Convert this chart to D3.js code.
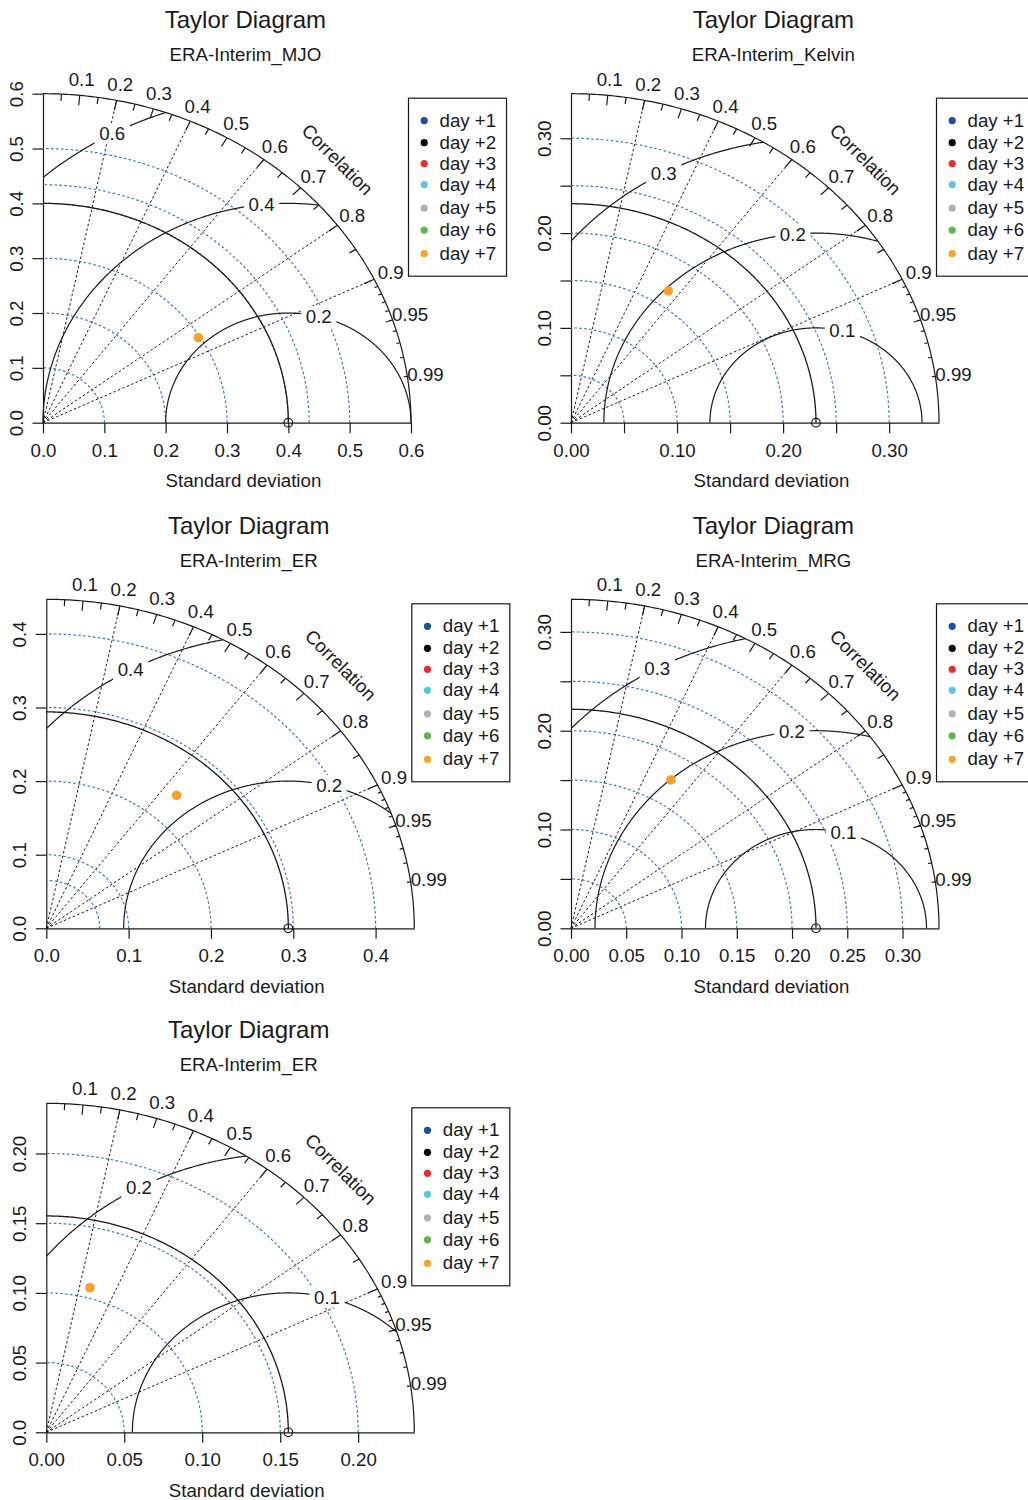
<!DOCTYPE html>
<html><head><meta charset="utf-8">
<script src="https://cdn.jsdelivr.net/npm/d3@7"></script>
<style>
body{margin:0;background:#fff}
text{font-family:"Liberation Sans",Arial,Helvetica,sans-serif;fill:#1a1a1a}
</style>
</head><body>
<svg id="c" width="1028" height="1500"></svg>
<script>
// ---------------- data ----------------
const panelTitles = ["ERA-Interim_MJO", "ERA-Interim_Kelvin", "ERA-Interim_ER", "ERA-Interim_MRG", "ERA-Interim_ER"];
const refSD  = [0.400, 0.231, 0.294, 0.2217, 0.1552];
const maxSD  = [0.600, 0.347, 0.447, 0.333, 0.236];
const rmsLevels = [[0.2, 0.4, 0.6], [0.1, 0.2, 0.3], [0.2, 0.4], [0.1, 0.2, 0.3], [0.1, 0.2]];
const sdArcs = [
  [0.1, 0.2, 0.3, 0.4, 0.434, 0.5],
  [0.05, 0.10, 0.15, 0.20, 0.25, 0.30],
  [0.065, 0.1, 0.2, 0.3, 0.4],
  [0.05, 0.10, 0.15, 0.20, 0.25, 0.30],
  [0.05, 0.10, 0.15, 0.20]
];
const axisTicks = [
  [0, 0.1, 0.2, 0.3, 0.4, 0.5, 0.6],
  [0, 0.05, 0.10, 0.15, 0.20, 0.25, 0.30],
  [0, 0.1, 0.2, 0.3, 0.4],
  [0, 0.05, 0.10, 0.15, 0.20, 0.25, 0.30],
  [0, 0.05, 0.10, 0.15, 0.20]
];
const xTickLabels = [
  ["0.0", "0.1", "0.2", "0.3", "0.4", "0.5", "0.6"],
  ["0.00", "", "0.10", "", "0.20", "", "0.30"],
  ["0.0", "0.1", "0.2", "0.3", "0.4"],
  ["0.00", "0.05", "0.10", "0.15", "0.20", "0.25", "0.30"],
  ["0.00", "0.05", "0.10", "0.15", "0.20"]
];
const yTickLabels = [
  ["0.0", "0.1", "0.2", "0.3", "0.4", "0.5", "0.6"],
  ["0.00", "", "0.10", "", "0.20", "", "0.30"],
  ["0.0", "0.1", "0.2", "0.3", "0.4"],
  ["0.00", "", "0.10", "", "0.20", "", "0.30"],
  ["0.0", "0.05", "0.10", "0.15", "0.20"]
];
const corrLines  = [0.2, 0.4, 0.6, 0.8, 0.9];
const corrLabels = [0.1, 0.2, 0.3, 0.4, 0.5, 0.6, 0.7, 0.8, 0.9, 0.95, 0.99];
const seriesNames  = ["day +1", "day +2", "day +3", "day +4", "day +5", "day +6", "day +7"];
const seriesColors = ["#1d4fa0", "#000000", "#ec2a2c", "#5ac8db", "#b3b3b3", "#5cb946", "#f7a12a"];
// plotted model points (only day +7 is visible): standard deviation and correlation
const day7SD   = [0.297, 0.1665, 0.2403, 0.1753, 0.1074];
const day7Corr = [0.853, 0.551, 0.659, 0.516, 0.261];

// ---------------- layout ----------------
const origins = [[43, 422.7], [571, 422.7], [46.3, 928.3], [571, 928.3], [46.3, 1432.3]];
const RX = 368, RY = 329;
const FS = 18.7, TFS = 24;
const INK = "#1a1a1a", BLUE = "#2f73cc";
const legendRowY = [22.5, 44.5, 65.5, 86.5, 110, 132, 155.5];

const svg = d3.select("#c");

panelTitles.forEach((title, p) => {
  const [ox, oy] = origins[p];
  const m = maxSD[p];
  const x = d3.scaleLinear().domain([0, m]).range([ox, ox + RX]);
  const y = d3.scaleLinear().domain([0, m]).range([oy, oy - RY]);
  const line = d3.line().x(d => x(d[0])).y(d => y(d[1]));
  const g = svg.append("g");
  const quarter = (r) => d3.range(0, 201).map(i => {
    const t = (Math.PI / 2) * i / 200;
    return [r * Math.cos(t), r * Math.sin(t)];
  });
  const cxT = ox + 1.1 * RX / 2;

  // titles
  g.append("text").attr("x", cxT).attr("y", oy - 394.4).attr("text-anchor", "middle")
    .attr("font-size", TFS).text("Taylor Diagram");
  g.append("text").attr("x", cxT).attr("y", oy - 361.7).attr("text-anchor", "middle")
    .attr("font-size", FS).text(title);
  g.append("text").attr("x", cxT - 2).attr("y", oy + 64.5).attr("text-anchor", "middle")
    .attr("font-size", FS).text("Standard deviation");

  // correlation dotted rays
  corrLines.forEach(c => {
    g.append("path").attr("d", line([[0, 0], [m * c, m * Math.sqrt(1 - c * c)]]))
      .attr("fill", "none").attr("stroke", INK).attr("stroke-width", 1)
      .attr("stroke-dasharray", "2.5,2.3");
  });

  // axes
  const xa = g.append("g").attr("transform", `translate(0,${oy})`)
    .call(d3.axisBottom(x).tickValues(axisTicks[p]).tickSize(10.5).tickSizeOuter(0)
      .tickFormat((d, i) => xTickLabels[p][i]));
  const ya = g.append("g").attr("transform", `translate(${ox},0)`)
    .call(d3.axisLeft(y).tickValues(axisTicks[p]).tickSize(10.5).tickSizeOuter(0)
      .tickFormat((d, i) => yTickLabels[p][i]));
  [xa, ya].forEach(a => {
    a.selectAll("path,line").attr("stroke", INK).attr("stroke-width", 1.2);
    a.selectAll("text").attr("font-size", FS).attr("fill", INK)
      .style("font-family", '"Liberation Sans",Arial,Helvetica,sans-serif');
  });
  xa.selectAll("text").attr("y", 34).attr("dy", null);
  ya.selectAll("text").attr("x", null).attr("dy", null).attr("text-anchor", "middle")
    .attr("transform", "translate(-20,0) rotate(-90)");

  // standard deviation grid arcs (blue dotted)
  sdArcs[p].forEach(s => {
    g.append("path").attr("d", line(quarter(s))).attr("fill", "none")
      .attr("stroke", BLUE).attr("stroke-width", 1.15).attr("stroke-dasharray", "2.6,2.3");
  });

  // centred RMS difference arcs with boxed labels
  const nG = rmsLevels[p].length;
  rmsLevels[p].forEach((gm, i) => {
    const pts = d3.range(0, Math.PI + 1e-9, 0.003)
      .map(t => [refSD[p] + gm * Math.cos(t), gm * Math.sin(t)])
      .filter(d => d[0] >= 0 && Math.hypot(d[0], d[1]) <= m * 1.0005);
    g.append("path").attr("d", line(pts)).attr("fill", "none")
      .attr("stroke", INK).attr("stroke-width", 1.2);
    const idx = nG > 1 ? Math.floor(45 + i * 25 / (nG - 1)) : 45;
    const t = (idx - 1) * 0.03;
    const lx = refSD[p] + gm * Math.cos(t), ly = gm * Math.sin(t);
    if (lx > 0) {
      const lbl = String(gm);
      const tw = lbl.length * 0.45 * FS;
      g.append("rect").attr("x", x(lx) - tw / 2 - 5).attr("y", y(ly) - 10.5)
        .attr("width", tw + 10).attr("height", 21).attr("fill", "#fff");
      g.append("text").attr("x", x(lx)).attr("y", y(ly)).attr("dy", "0.35em")
        .attr("text-anchor", "middle").attr("font-size", FS).text(lbl);
    }
  });

  // ticks on the correlation arc
  const tickSeg = (c, f) => {
    const s = Math.sqrt(1 - c * c);
    g.append("path").attr("d", line([[m * c, m * s], [f * m * c, f * m * s]]))
      .attr("stroke", INK).attr("stroke-width", 1.2);
  };
  d3.range(1, 10).forEach(k => tickSeg(k / 10, 0.97));
  d3.range(0, 10).forEach(k => tickSeg(0.05 + k / 10, 0.98));
  d3.range(1, 10).forEach(k => tickSeg(0.9 + k / 100, 0.99));

  // outer arc and reference arc
  g.append("path").attr("d", line(quarter(m))).attr("fill", "none")
    .attr("stroke", INK).attr("stroke-width", 1.2);
  g.append("path").attr("d", line(quarter(refSD[p]))).attr("fill", "none")
    .attr("stroke", INK).attr("stroke-width", 1.3);
  g.append("circle").attr("cx", x(refSD[p])).attr("cy", y(0)).attr("r", 4.3)
    .attr("fill", "none").attr("stroke", INK).attr("stroke-width", 1.2);

  // correlation labels
  corrLabels.forEach(c => {
    const s = Math.sqrt(1 - c * c);
    g.append("text").attr("x", x(1.05 * m * c)).attr("y", y(1.05 * m * s)).attr("dy", "0.35em")
      .attr("text-anchor", "middle").attr("font-size", FS).text(String(c));
  });
  g.append("text").attr("transform", `translate(${x(0.8 * m)},${y(0.8 * m)}) rotate(45)`)
    .attr("dy", "0.35em").attr("text-anchor", "middle").attr("font-size", FS).text("Correlation");

  // model point(s)
  g.append("circle").attr("cx", x(day7SD[p] * day7Corr[p]))
    .attr("cy", y(day7SD[p] * Math.sqrt(1 - day7Corr[p] * day7Corr[p])))
    .attr("r", 4.8).attr("fill", seriesColors[6]);

  // legend
  const lx0 = ox + 365.5, ly0 = oy - 324.5;
  g.append("rect").attr("x", lx0).attr("y", ly0).attr("width", 98).attr("height", 178)
    .attr("fill", "#fff").attr("stroke", INK).attr("stroke-width", 1.2);
  seriesNames.forEach((nm, i) => {
    g.append("circle").attr("cx", lx0 + 15.7).attr("cy", ly0 + legendRowY[i]).attr("r", 3.6)
      .attr("fill", seriesColors[i]);
    g.append("text").attr("x", lx0 + 31).attr("y", ly0 + legendRowY[i]).attr("dy", "0.33em")
      .attr("font-size", FS).text(nm);
  });
});
</script>
</body></html>
